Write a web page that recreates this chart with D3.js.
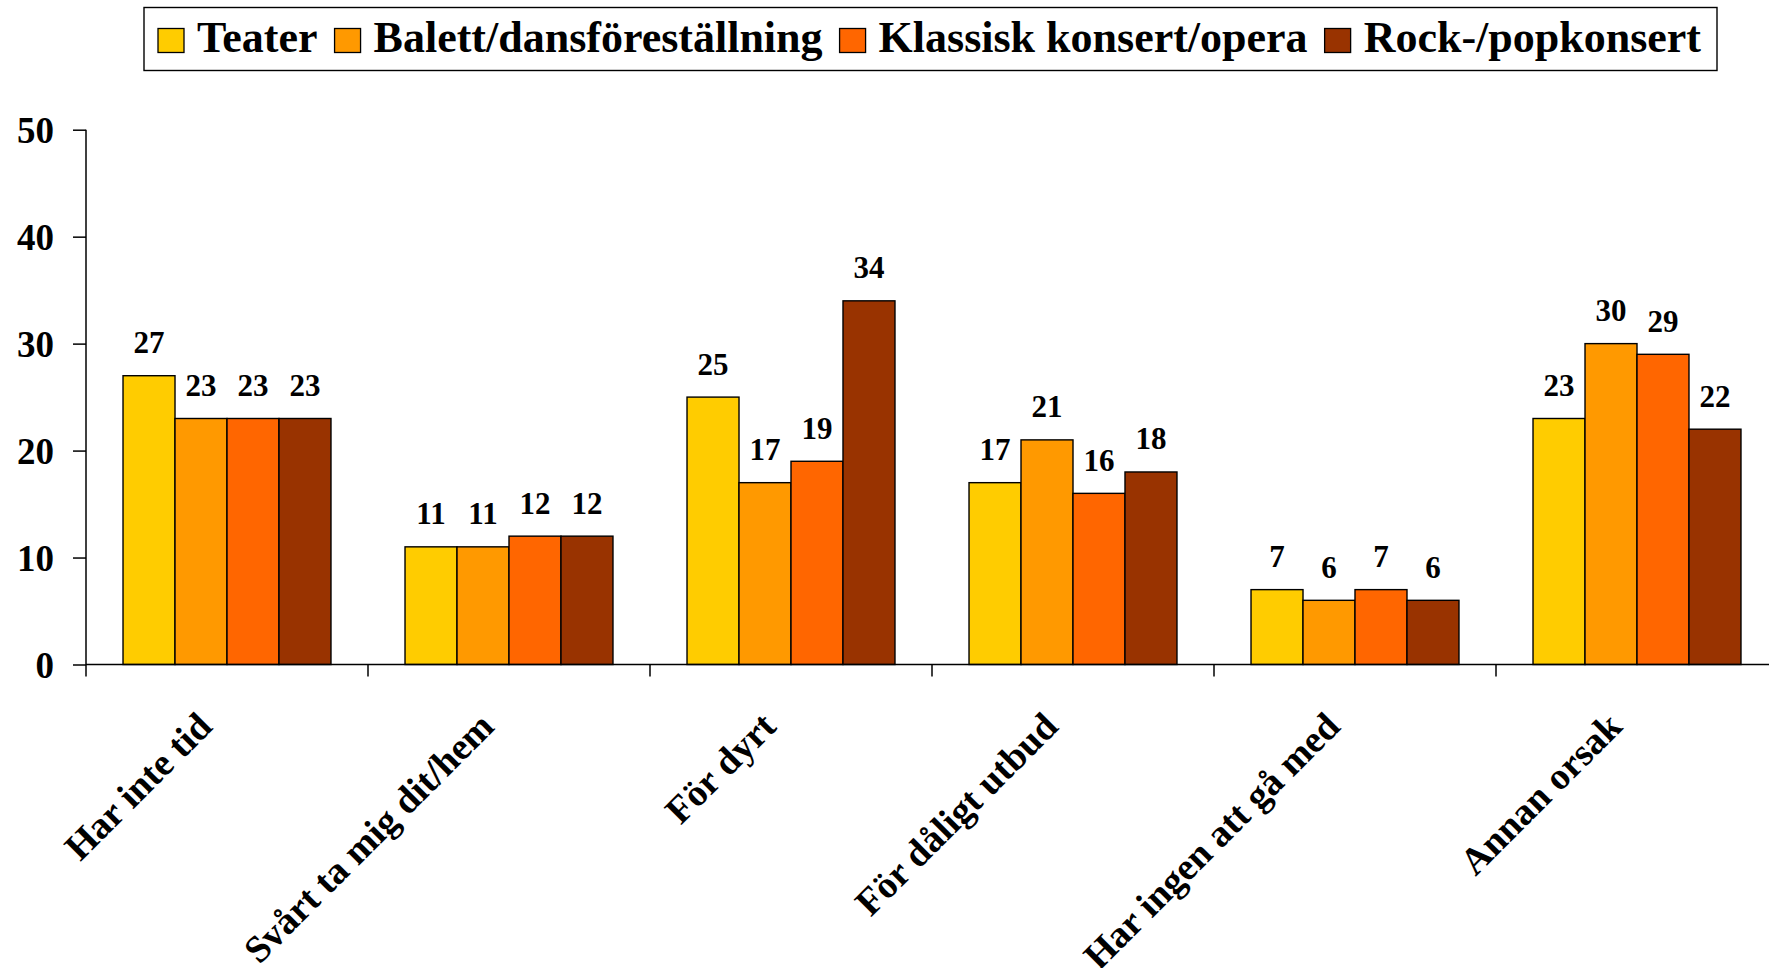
<!DOCTYPE html>
<html>
<head>
<meta charset="utf-8">
<script src="https://cdn.jsdelivr.net/npm/d3@7"></script>
<style>
  html, body { margin: 0; padding: 0; background: #fff; overflow: hidden; }
  svg { display: block; font-family: "Liberation Serif", "Times New Roman", serif; font-weight: bold; }
</style>
</head>
<body>
<svg id="chart" width="1769" height="968"></svg>
<script>
const categories = ["Har inte tid", "Svårt ta mig dit/hem", "För dyrt", "För dåligt utbud", "Har ingen att gå med", "Annan orsak"];
const seriesNames = ["Teater", "Balett/dansföreställning", "Klassisk konsert/opera", "Rock-/popkonsert"];
const teater   = [27, 11, 25, 17, 7, 23];
const balett   = [23, 11, 17, 21, 6, 30];
const klassisk = [23, 12, 19, 16, 7, 29];
const rockpop  = [23, 12, 34, 18, 6, 22];
const seriesColors = ["#FFCC00", "#FF9900", "#FF6600", "#993300"];
const yTicks = [0, 10, 20, 30, 40, 50];

const seriesValues = [teater, balett, klassisk, rockpop];
const W = 1769, H = 968;
const svg = d3.select("#chart");

const plotLeft = 86, catStep = 282;
const x = d3.scaleBand().domain(categories).range([plotLeft, plotLeft + catStep * categories.length]).paddingInner(0).paddingOuter(0);
const xs = d3.scaleBand().domain(seriesNames).range([0, x.bandwidth()]).paddingInner(0).paddingOuter(0.712);
const y = d3.scaleLinear().domain([0, 50]).range([664.5, 129.7]);

// bars
const g = svg.append("g");
categories.forEach((c, ci) => {
  seriesNames.forEach((s, si) => {
    const v = seriesValues[si][ci];
    g.append("rect")
      .attr("x", x(c) + xs(s))
      .attr("y", y(v))
      .attr("width", xs.bandwidth())
      .attr("height", y(0) - y(v))
      .attr("fill", seriesColors[si])
      .attr("stroke", "#000")
      .attr("stroke-width", 1.4);
    g.append("text")
      .attr("x", x(c) + xs(s) + xs.bandwidth() / 2)
      .attr("y", y(v) - 22.5)
      .attr("text-anchor", "middle")
      .attr("font-size", 31)
      .attr("fill", "#000")
      .text(v);
  });
});

// y axis
const yAxis = d3.axisLeft(y).tickValues(yTicks).tickSize(13).tickPadding(19).tickFormat(d3.format("d"));
const ya = svg.append("g").attr("transform", `translate(${plotLeft},0)`).call(yAxis);
ya.select(".domain").remove();
ya.selectAll(".tick line").attr("stroke", "#000").attr("stroke-width", 1.5);
ya.selectAll(".tick text").attr("font-size", 37).attr("font-family", "Liberation Serif, Times New Roman, serif")
  .attr("font-weight", "bold").attr("fill", "#000").attr("dy", "0.34em");
svg.append("line").attr("x1", plotLeft).attr("x2", plotLeft).attr("y1", y(50)).attr("y2", y(0) + 12)
  .attr("stroke", "#000").attr("stroke-width", 1.5);

// x axis
svg.append("line").attr("x1", plotLeft).attr("x2", W).attr("y1", y(0)).attr("y2", y(0))
  .attr("stroke", "#000").attr("stroke-width", 1.5);
categories.forEach((c, ci) => {
  if (ci > 0) {
    svg.append("line").attr("x1", x(c)).attr("x2", x(c)).attr("y1", y(0)).attr("y2", y(0) + 12)
      .attr("stroke", "#000").attr("stroke-width", 1.5);
  }
  const cx = x(c) + x.bandwidth() / 2 - 13;
  const cy = y(0) + 64;
  svg.append("text")
    .attr("transform", `translate(${cx},${cy}) rotate(-45)`)
    .attr("text-anchor", "end")
    .attr("font-size", 38)
    .attr("fill", "#000")
    .text(c);
});

// legend
const lg = svg.append("g");
lg.append("rect").attr("x", 144).attr("y", 7.5).attr("width", 1573).attr("height", 63)
  .attr("fill", "#fff").attr("stroke", "#000").attr("stroke-width", 1.4);
let lx = 158;
seriesNames.forEach((s, si) => {
  lg.append("rect").attr("x", lx).attr("y", 28.5).attr("width", 26).attr("height", 24)
    .attr("fill", seriesColors[si]).attr("stroke", "#000").attr("stroke-width", 1.3);
  const t = lg.append("text").attr("x", lx + 39).attr("y", 52.3).attr("font-size", 44).attr("fill", "#000").text(s);
  const w = t.node().getComputedTextLength();
  lx = lx + 39 + w + 17;
});
</script>
</body>
</html>
